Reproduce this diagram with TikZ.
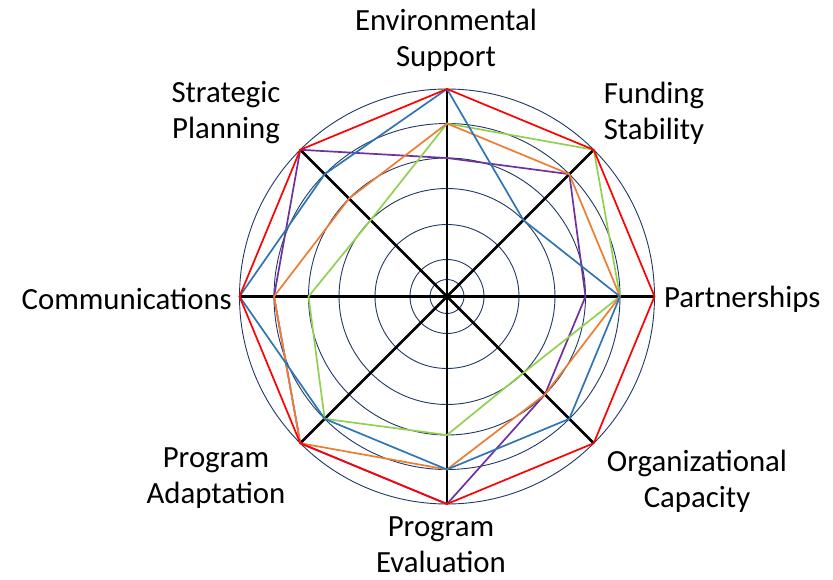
\documentclass[tikz,border=0pt]{standalone}
\usepackage{fontspec}
\setmainfont{Carlito}
\usetikzlibrary{calc}
\definecolor{ringc}{RGB}{32,56,100}
\definecolor{sred}{RGB}{255,0,0}
\definecolor{sblue}{RGB}{46,117,182}
\definecolor{sorange}{RGB}{237,125,49}
\definecolor{sgreen}{RGB}{146,208,80}
\definecolor{spurple}{RGB}{112,48,160}
\begin{document}
\begin{tikzpicture}[x=1pt,y=1pt,
  axisline/.style={line width=2.8pt,black},
  ring/.style={draw=ringc,line width=0.9pt},
  series/.style={line width=1.7pt,line join=miter},
  lbl/.style={font=\fontsize{30.8}{36}\selectfont,align=center,inner sep=0pt}]
\useasboundingbox (0,0) rectangle (833,579);
\coordinate (C) at (447,282.5);
\foreach \ang [count=\k] in {90,45,0,-45,-90,-135,180,135} {
  \foreach \rad [count=\l] in {17,37,72,108,138.5,173,207.5} {
    \coordinate (a\k l\l) at ($(C)+(\ang:\rad)$);
  }
}
% rings
\foreach \rad in {17,37,72,108,138.5,173,207.5}
  \draw[ring] (C) circle (\rad);
% axes
\foreach \k in {1,...,8}
  \draw[axisline] (C) -- (a\k l7);
% series
\draw[series,spurple] (a1l5) -- (a2l6) -- (a3l5) -- (a4l5) -- (a5l7) -- (a6l7) -- (a7l6) -- (a8l7) -- cycle;
\draw[series,sgreen] (a1l6) -- (a2l7) -- (a3l6) -- (a4l4) -- (a5l5) -- (a6l6) -- (a7l5) -- (a8l4) -- cycle;
\draw[series,sorange] (a1l6) -- (a2l6) -- (a3l6) -- (a4l5) -- (a5l6) -- (a6l7) -- (a7l6) -- (a8l5) -- cycle;
\draw[series,sblue] (a1l7) -- (a2l4) -- (a3l6) -- (a4l6) -- (a5l6) -- (a6l6) -- (a7l7) -- (a8l6) -- cycle;
\draw[series,sred] (a1l7) -- (a2l7) -- (a3l7) -- (a4l7) -- (a5l7) -- (a6l7) -- (a7l7) -- (a8l7) -- cycle;
% labels
\node[lbl] (env) at (446,539) {Environmental\\Support};
\node[lbl] (fund) at (654,466) {Funding\\Stability};
\node[lbl,anchor=west] (part) at (664,280) {Partnerships};
\node[lbl] (org) at (697,98) {Organizational\\Capacity};
\node[lbl] (eval) at (441,34) {Program\\Evaluation};
\node[lbl] (adapt) at (216,100.5) {Program\\Adaptation};
\node[lbl,anchor=east] (comm) at (232,280) {Communications};
\node[lbl] (strat) at (226,466) {Strategic\\Planning};
\end{tikzpicture}
\end{document}
